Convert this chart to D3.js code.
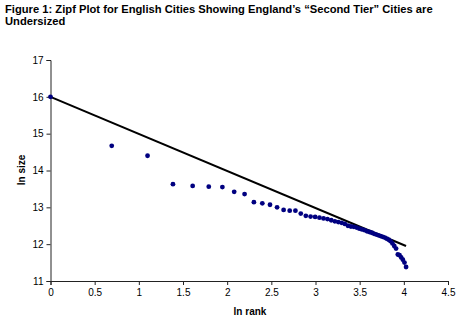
<!DOCTYPE html>
<html><head><meta charset="utf-8">
<script src="https://cdn.jsdelivr.net/npm/d3@7"></script>
<style>body{margin:0;background:#fff}svg{display:block}</style>
</head><body>
<script>
const ranks = d3.range(1, 57);
const lnSize = [16.00,14.67,14.40,13.63,13.58,13.56,13.55,13.42,13.36,13.14,
  13.11,13.07,13.00,12.93,12.91,12.91,12.83,12.77,12.75,12.74,
  12.72,12.70,12.68,12.65,12.62,12.60,12.58,12.55,12.50,12.48,
  12.47,12.45,12.42,12.40,12.38,12.35,12.33,12.31,12.28,12.26,
  12.24,12.22,12.20,12.18,12.15,12.12,12.08,12.02,11.95,11.88,
  11.72,11.70,11.64,11.58,11.50,11.38];
const fitLine = [[0,16.0],[4.025,11.95]];
const xTicks = [0,0.5,1,1.5,2,2.5,3,3.5,4,4.5];
const yTicks = [11,12,13,14,15,16,17];
const titleLines = ["Figure 1: Zipf Plot for English Cities Showing England\u2019s \u201cSecond Tier\u201d Cities are","Undersized"];

const W=473,H=334;
const svg=d3.select("body").append("svg").attr("width",W).attr("height",H);
const x=d3.scaleLinear().domain([0,4.5]).range([50.5,448]);
const y=d3.scaleLinear().domain([11,17]).range([281,60]);
const font="Arial, 'Liberation Sans', sans-serif";

svg.append("g").selectAll("text").data(titleLines).join("text")
  .attr("x",5).attr("y",(d,i)=>13+i*12.2)
  .attr("font-family",font).attr("font-weight","bold").attr("font-size","11.2px")
  .text(d=>d);

const gx=svg.append("g").attr("transform","translate(0,281)")
  .call(d3.axisBottom(x).tickValues(xTicks).tickSize(4).tickPadding(4).tickFormat(d3.format("")));
const gy=svg.append("g").attr("transform","translate(50.5,0)")
  .call(d3.axisLeft(y).tickValues(yTicks).tickSize(4).tickPadding(3).tickFormat(d3.format("d")));
[gx,gy].forEach(g=>{
  g.selectAll("path,line").attr("stroke","#222").attr("stroke-width",1);
  g.selectAll("text").attr("font-family",font).attr("font-size","10px").attr("fill","#000");
});

svg.append("text").attr("x",250).attr("y",315).attr("text-anchor","middle")
  .attr("font-family",font).attr("font-weight","bold").attr("font-size","10px").text("ln rank");
svg.append("text").attr("transform","translate(25,170) rotate(-90)").attr("text-anchor","middle")
  .attr("font-family",font).attr("font-weight","bold").attr("font-size","10px").text("ln size");

svg.append("path").datum(fitLine)
  .attr("d",d3.line().x(d=>x(d[0])).y(d=>y(d[1])))
  .attr("stroke","#000").attr("stroke-width",2).attr("fill","none");

svg.append("g").selectAll("circle").data(ranks).join("circle")
  .attr("cx",r=>x(Math.log(r))).attr("cy",(r,i)=>y(lnSize[i])).attr("r",2.4)
  .attr("fill","#000080");
</script>
</body></html>
